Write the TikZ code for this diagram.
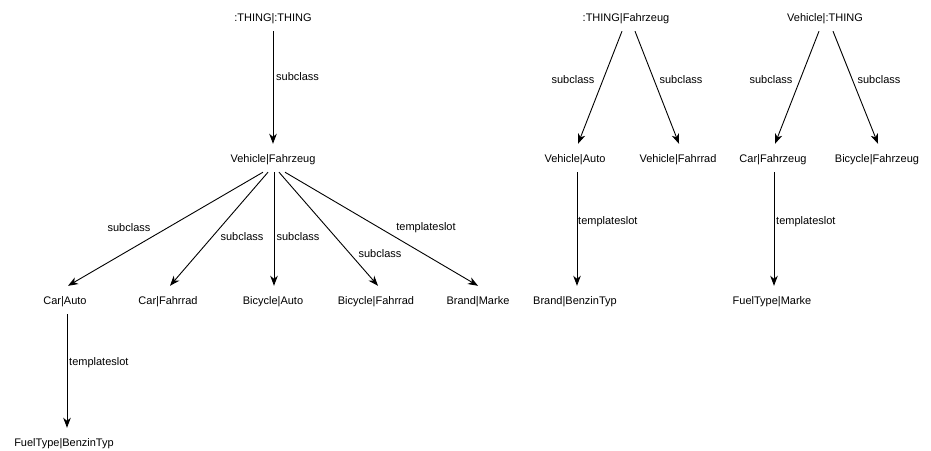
\documentclass[tikz,border=0pt]{standalone}
\usepackage{fontspec}
\setmainfont{Liberation Sans}
\usetikzlibrary{arrows.meta}
\tikzset{
  cls/.style={inner xsep=2pt, inner ysep=8.5pt, text height=9.5pt, text depth=1.5pt, font=\fontsize{11}{13}\selectfont},
  lbl/.style={inner sep=0pt, font=\fontsize{11}{13}\selectfont},
  arr/.style={draw=black, line width=0.9pt, -{Stealth[length=10pt,width=7.5pt,inset=3pt]}}
}
\begin{document}
\begin{tikzpicture}[x=1pt,y=-1pt]
\useasboundingbox[fill=white] (0,0) rectangle (931,450);
% nodes
\node[cls] (thing) at (273,17) {:THING|:THING};
\node[cls] (veh) at (273,158) {Vehicle|Fahrzeug};
\node[cls] (carauto) at (65,300) {Car|Auto};
\node[cls] (carfahrrad) at (168,300) {Car|Fahrrad};
\node[cls] (bicauto) at (273,300) {Bicycle|Auto};
\node[cls] (bicfahrrad) at (376,300) {Bicycle|Fahrrad};
\node[cls] (brandmarke) at (478,300) {Brand|Marke};
\node[cls] (fuelbenzin) at (64,442) {FuelType|BenzinTyp};
\node[cls] (thingfz) at (626,17) {:THING|Fahrzeug};
\node[cls] (vauto) at (575,158) {Vehicle|Auto};
\node[cls] (vfahrrad) at (678,158) {Vehicle|Fahrrad};
\node[cls] (brandbenzin) at (575,300) {Brand|BenzinTyp};
\node[cls] (vthing) at (825,17) {Vehicle|:THING};
\node[cls] (carfz) at (773,158) {Car|Fahrzeug};
\node[cls] (bicfz) at (877,158) {Bicycle|Fahrzeug};
\node[cls] (fuelmarke) at (772,300) {FuelType|Marke};
% edges
\draw[arr] (thing.south) -- (veh.north);
\draw[arr] ([xshift=-10pt]veh.south) -- ([xshift=3pt]carauto.north);
\draw[arr] ([xshift=-5pt]veh.south) -- ([xshift=2pt]carfahrrad.north);
\draw[arr] ([xshift=1pt]veh.south) -- ([xshift=1pt]bicauto.north);
\draw[arr] ([xshift=6pt]veh.south) -- ([xshift=2pt]bicfahrrad.north);
\draw[arr] ([xshift=12pt]veh.south) -- (brandmarke.north);
\draw[arr] ([xshift=2pt]carauto.south) -- ([xshift=3pt]fuelbenzin.north);
\draw[arr] ([xshift=-4pt]thingfz.south) -- ([xshift=3pt]vauto.north);
\draw[arr] ([xshift=9pt]thingfz.south) -- ([xshift=1pt]vfahrrad.north);
\draw[arr] ([xshift=2pt]vauto.south) -- ([xshift=2pt]brandbenzin.north);
\draw[arr] ([xshift=-6pt]vthing.south) -- ([xshift=2pt]carfz.north);
\draw[arr] ([xshift=8pt]vthing.south) -- ([xshift=1pt]bicfz.north);
\draw[arr] ([xshift=1pt]carfz.south) -- ([xshift=2pt]fuelmarke.north);
% labels
\node[lbl, anchor=west] (l1) at (276,77) {subclass};
\node[lbl] (l2) at (129,228) {subclass};
\node[lbl] (l3) at (242,237) {subclass};
\node[lbl] (l4) at (298,237) {subclass};
\node[lbl] (l5) at (380,254) {subclass};
\node[lbl] (l6) at (426,228) {templateslot};
\node[lbl, anchor=west] (l7) at (69,363) {templateslot};
\node[lbl] (l8) at (573,80) {subclass};
\node[lbl] (l9) at (681,80) {subclass};
\node[lbl, anchor=west] (l10) at (578,222) {templateslot};
\node[lbl] (l11) at (771,80) {subclass};
\node[lbl] (l12) at (879,80) {subclass};
\node[lbl, anchor=west] (l13) at (776,222) {templateslot};
\end{tikzpicture}
\end{document}
